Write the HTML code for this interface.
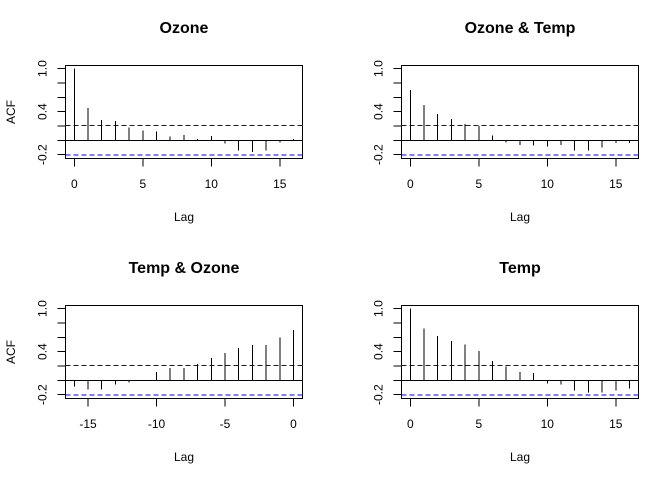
<!DOCTYPE html>
<html><head><meta charset="utf-8"><style>
body{margin:0;background:#fff}
svg{display:block;font-family:"Liberation Sans",Arial,sans-serif}
line,rect{shape-rendering:crispEdges}
</style></head><body>
<svg id="c" width="672" height="480" viewBox="0 0 672 480"></svg>
<script>
const ozoneAcf=[1.0,0.45,0.28,0.27,0.18,0.14,0.125,0.05,0.075,0.02,0.06,-0.046,-0.14,-0.16,-0.14,-0.03,0.02];
const ozoneTempCcf=[0.70,0.49,0.37,0.30,0.23,0.20,0.065,-0.03,-0.065,-0.074,-0.088,-0.065,-0.14,-0.14,-0.10,-0.04,-0.04];
const tempOzoneCcf=[-0.088,-0.13,-0.13,-0.06,-0.03,0.0,0.116,0.17,0.17,0.23,0.31,0.38,0.45,0.49,0.49,0.60,0.70];
const tempAcf=[1.0,0.72,0.62,0.55,0.50,0.41,0.27,0.19,0.116,0.10,-0.046,-0.06,-0.14,-0.17,-0.17,-0.14,-0.116];
const posLags=[0,1,2,3,4,5,6,7,8,9,10,11,12,13,14,15,16];
const negLags=[-16,-15,-14,-13,-12,-11,-10,-9,-8,-7,-6,-5,-4,-3,-2,-1,0];
const posTicks=[0,5,10,15];
const negTicks=[-15,-10,-5,0];
const yTicks=[-0.2,0,0.2,0.4,0.6,0.8,1.0];
const yLabels=[-0.2,0.4,1.0];
const ciBound=0.206;
const panels=[
 {name:'ozone',title:'Ozone',lags:posLags,vals:ozoneAcf,ticks:posTicks,dx:0,dy:0,acf:true},
 {name:'ozone-temp',title:'Ozone & Temp',lags:posLags,vals:ozoneTempCcf,ticks:posTicks,dx:336,dy:0,acf:false},
 {name:'temp-ozone',title:'Temp & Ozone',lags:negLags,vals:tempOzoneCcf,ticks:negTicks,dx:0,dy:240,acf:true},
 {name:'temp',title:'Temp',lags:posLags,vals:tempAcf,ticks:posTicks,dx:336,dy:240,acf:false}
];
const NS='http://www.w3.org/2000/svg';
const svg=document.getElementById('c');
function mk(tag,attrs,parent,text){const e=document.createElementNS(NS,tag);for(const k in attrs)e.setAttribute(k,attrs[k]);if(text!==undefined)e.textContent=text;parent.appendChild(e);return e;}
panels.forEach(p=>{
 const g=mk('g',{},svg);
 
 
 const L=65.5+p.dx,R=302.5+p.dx,T=65.5+p.dy,B=158.5+p.dy;
 const lo=p.lags[0];
 const x0=74.3+p.dx;
 const sx=v=>x0+(v-lo)*13.7;
 const sy=v=>140.3+p.dy-v*71.7;
 const t=mk('text',{x:(L+R)/2,y:33+p.dy,'text-anchor':'middle','font-size':'16','font-weight':'bold'},g,p.title);
 
 
 const box=mk('rect',{x:L,y:T,width:R-L,height:B-T,fill:'none',stroke:'#000','stroke-width':1},g);
 
 
 mk('line',{x1:L,x2:R,y1:sy(0),y2:sy(0),stroke:'#000'},g);
 [ciBound,-ciBound].forEach(c=>{
  const l=mk('line',{x1:L,x2:R,y1:sy(c),y2:sy(c),stroke:'#0000ff','stroke-dasharray':'5,3'},g);
  
  
 });
 p.lags.forEach((lag,i)=>{
  const b=mk('line',{x1:sx(lag),x2:sx(lag),y1:sy(0),y2:sy(p.vals[i]),stroke:'#000','stroke-width':1},g);
  
  
 });
 yTicks.forEach(v=>{mk('line',{x1:L-8,x2:L,y1:sy(v),y2:sy(v),stroke:'#000'},g);});
 yLabels.forEach(v=>{
  const y=sy(v),x=46.5+p.dx;
  const tl=mk('text',{x:x,y:y,'text-anchor':'middle','font-size':'12',transform:`rotate(-90 ${x} ${y})`},g,v.toFixed(1));
  
  
 });
 p.ticks.forEach(v=>{
  mk('line',{x1:sx(v),x2:sx(v),y1:B,y2:B+8,stroke:'#000'},g);
  const tl=mk('text',{x:sx(v),y:188+p.dy,'text-anchor':'middle','font-size':'12'},g,String(v));
  
  
 });
 const xl=mk('text',{x:(L+R)/2,y:221+p.dy,'text-anchor':'middle','font-size':'12'},g,'Lag');
 
 
 if(p.acf){
  const yy=112+p.dy,xx=15;
  const yl=mk('text',{x:xx,y:yy,'text-anchor':'middle','font-size':'12',transform:`rotate(-90 ${xx} ${yy})`},g,'ACF');
  
  
 }
});
</script>
</body></html>
